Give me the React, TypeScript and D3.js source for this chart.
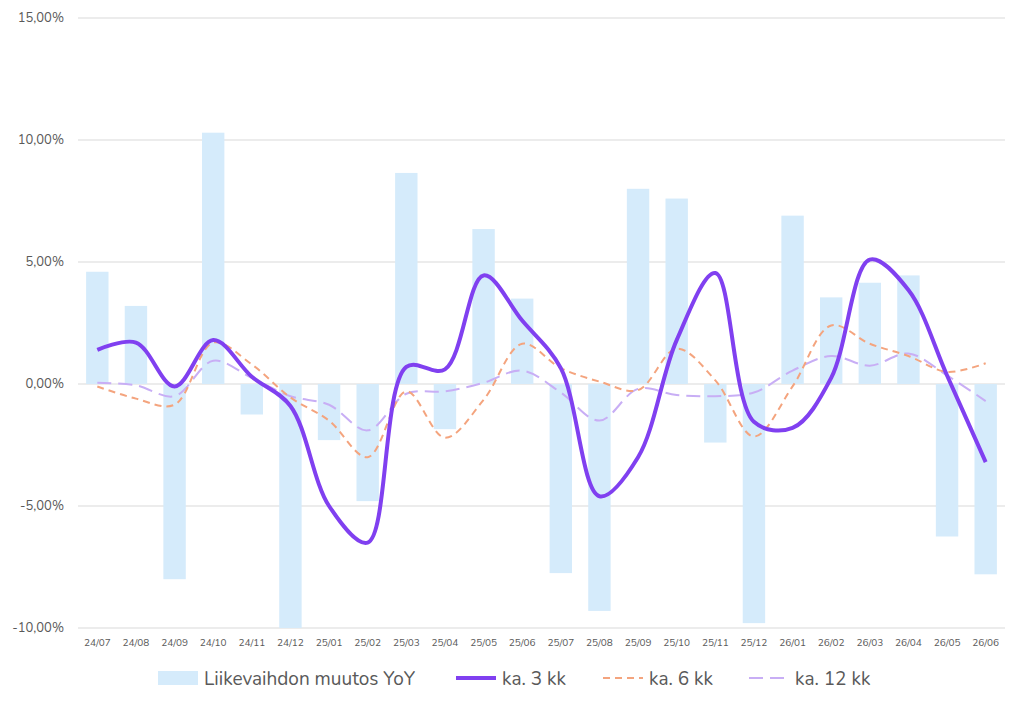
import React from 'react';
import * as d3 from 'd3';

const categories = ['24/07','24/08','24/09','24/10','24/11','24/12','25/01','25/02','25/03','25/04','25/05','25/06','25/07','25/08','25/09','25/10','25/11','25/12','26/01','26/02','26/03','26/04','26/05','26/06'];
const yoy = [4.6,3.2,-8.0,10.3,-1.25,-10.0,-2.3,-4.8,8.65,-1.85,6.35,3.5,-7.75,-9.3,8.0,7.6,-2.4,-9.8,6.9,3.55,4.15,4.45,-6.25,-7.8];
const ka3 = [1.4,1.7,-0.1,1.8,0.3,-0.9,-5.0,-6.5,0.7,0.6,4.45,2.6,0.65,-4.6,-3.0,1.8,4.55,-1.55,-1.8,0.25,5.1,3.85,0.35,-3.2];
const ka6 = [-0.1,-0.6,-0.85,1.7,0.8,-0.55,-1.5,-3.0,-0.3,-2.2,-0.65,1.65,0.65,0.1,-0.25,1.45,0.15,-2.15,-0.1,2.4,1.65,1.15,0.5,0.85];
const ka12 = [0.05,-0.05,-0.5,0.95,0.25,-0.5,-0.85,-1.9,-0.4,-0.3,0.05,0.55,-0.35,-1.5,-0.2,-0.45,-0.5,-0.35,0.55,1.15,0.75,1.25,0.35,-0.7];
const yTicks = [-10,-5,0,5,10,15];

const W = 1024, H = 708;
const left = 78, right = 1005, top = 18, bottom = 628;

export default function App() {
  const x = d3.scaleBand<string>().domain(categories).range([left, right]).paddingInner(0.42).paddingOuter(0.21);
  const y = d3.scaleLinear().domain([-10, 15]).range([bottom, top]);
  const cx = (i: number) => (x(categories[i]) as number) + x.bandwidth() / 2;
  const line = d3.line<number>().x((_, i) => cx(i)).y(d => y(d)).curve(d3.curveCatmullRom.alpha(0.5));
  const fmt = (v: number) => v.toFixed(2).replace('.', ',') + '%';
  const font = 'Nunito, "Open Sans", sans-serif';
  return (
    <svg width={W} height={H} style={{ position: 'absolute', left: 0, top: 0 }} fontFamily={font}>
      {yTicks.map(t => (
        <g key={t}>
          <line x1={left} x2={right} y1={y(t)} y2={y(t)} stroke="#d9d9d9" strokeWidth={1} />
          <text x={64} y={y(t) + 4} textAnchor="end" fontSize={13} fill="#595959">{fmt(t)}</text>
        </g>
      ))}
      {yoy.map((v, i) => (
        <rect key={i} x={x(categories[i])} width={x.bandwidth()} y={y(Math.max(0, v))}
          height={Math.abs(y(v) - y(0))} fill="#d5ebfb" />
      ))}
      <path d={line(ka12) || ''} fill="none" stroke="#c8aef5" strokeWidth={2} strokeDasharray="14,7" />
      <path d={line(ka6) || ''} fill="none" stroke="#f4a47e" strokeWidth={2} strokeDasharray="7,5" />
      <path d={line(ka3) || ''} fill="none" stroke="#8040f0" strokeWidth={4} />
      {categories.map((c, i) => (
        <text key={c} x={cx(i)} y={646} textAnchor="middle" fontSize={10} fill="#595959">{c}</text>
      ))}
      <g fontSize={19} fill="#595959">
        <rect x={158} y={671} width={40} height={14} fill="#d5ebfb" />
        <text x={204} y={685}>Liikevaihdon muutos YoY</text>
        <line x1={456} x2={496} y1={678} y2={678} stroke="#8040f0" strokeWidth={4} />
        <text x={502} y={685}>ka. 3 kk</text>
        <line x1={603} x2={643} y1={678} y2={678} stroke="#f4a47e" strokeWidth={2} strokeDasharray="7,5" />
        <text x={649} y={685}>ka. 6 kk</text>
        <line x1={749} x2={789} y1={678} y2={678} stroke="#c8aef5" strokeWidth={2} strokeDasharray="14,7" />
        <text x={795} y={685}>ka. 12 kk</text>
      </g>
    </svg>
  );
}
